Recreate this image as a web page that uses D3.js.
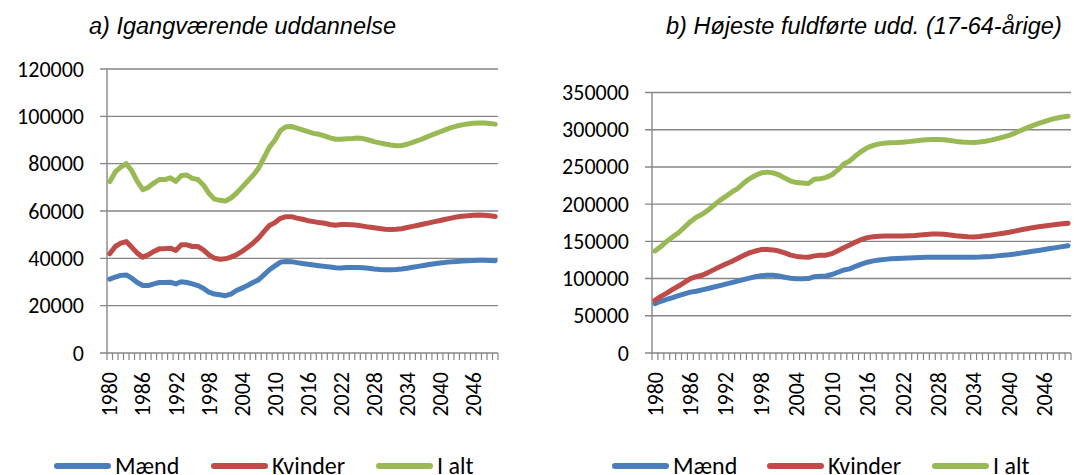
<!DOCTYPE html>
<html>
<head>
<meta charset="utf-8">
<script src="https://cdn.jsdelivr.net/npm/d3@7"></script>
<style>
  body { margin: 0; background: #fff; }
  svg { display: block; }
  .title { font-family: "Liberation Sans", Arial, sans-serif; font-style: italic; font-size: 23.5px; fill: #000; }
  .tick-label { font-family: Carlito, Lato, sans-serif; font-size: 22px; fill: #000; }
  .legend-label { font-family: Carlito, Lato, sans-serif; font-size: 24px; fill: #000; }
</style>
</head>
<body>
<svg id="chart" width="1074" height="475"></svg>
<script>
// categories
const years = d3.range(1980, 2051);
const tickYears = [1980, 1986, 1992, 1998, 2004, 2010, 2016, 2022, 2028, 2034, 2040, 2046];
const seriesNames = ["Mænd", "Kvinder", "I alt"];
const seriesColors = ["#4A7EBB", "#BE4B48", "#98B954"];

// a) Igangværende uddannelse
const yTicksA = [0, 20000, 40000, 60000, 80000, 100000, 120000];
const maendA = [
  31200, 32100, 32800, 33000, 31600, 29800, 28500, 28500, 29200, 29800,
  29800, 29900, 29200, 30100, 29800, 29200, 28500, 27400, 25700, 24900,
  24600, 24200, 24900, 26400, 27400, 28500, 29800, 30900, 33000, 35200,
  36800, 38400, 38700, 38600, 38200, 37800, 37500, 37200, 36900, 36600,
  36300, 36000, 35900, 36100, 36100, 36100, 36000, 35800, 35500, 35300,
  35200, 35200, 35300, 35500, 35800, 36200, 36600, 37000, 37400, 37700,
  38000, 38300, 38500, 38700, 38900, 39000, 39100, 39200, 39200, 39100,
  39000
];
const kvinderA = [
  41900, 45000, 46400, 47100, 44700, 42200, 40500, 41500, 42900, 44000,
  44100, 44300, 43300, 45700, 45700, 45000, 45000, 43600, 41500, 40100,
  39600, 39800, 40500, 41500, 42900, 44600, 46400, 48500, 51300, 53900,
  55100, 56900, 57600, 57600, 57000, 56500, 55900, 55500, 55100, 54800,
  54300, 54000, 54300, 54300, 54200, 54000, 53600, 53200, 52900, 52600,
  52300, 52200, 52300, 52500, 53000, 53500, 54000, 54500, 55000, 55500,
  56000, 56500, 57000, 57500, 57800, 58000, 58200, 58300, 58200, 58000,
  57700
];
const ialtA = [
  72400, 76500, 78500, 80000, 77000, 72500, 69000, 70000, 71800, 73300,
  73300, 74000, 72500, 75000, 75200, 73800, 73300, 71000, 67500, 65000,
  64500, 64200, 65500, 67500, 70000, 72500, 75000, 78000, 82500, 87000,
  90000, 94000, 95600, 95700, 95000, 94300, 93500, 92800, 92400, 91700,
  90900, 90300, 90300, 90500, 90600, 90800, 90600, 90000, 89300, 88800,
  88300, 87900, 87600, 87700, 88200, 89000, 89800, 90700, 91700, 92600,
  93500, 94400, 95200, 95900, 96400, 96800, 97100, 97200, 97200, 97000,
  96700
];

// b) Højeste fuldførte udd. (17-64-årige)
const yTicksB = [0, 50000, 100000, 150000, 200000, 250000, 300000, 350000];
const maendB = [
  66300, 69500, 72000, 74500, 77000, 79500, 81800, 83000, 84800, 86700,
  88700, 90600, 92500, 94500, 96500, 98500, 100500, 102500, 103800, 104400,
  104400, 103500, 101800, 100500, 99800, 99900, 100000, 102500, 103000, 103500,
  105500, 108500, 111500, 113000, 116500, 119500, 122000, 123800, 125000, 125800,
  126500, 126900, 127300, 127600, 127900, 128200, 128500, 128600, 128600, 128600,
  128600, 128600, 128600, 128600, 128700, 128900, 129300, 129800, 130500, 131200,
  132000, 133000, 134200, 135400, 136600, 137800, 139000, 140300, 141600, 142900,
  144200
];
const kvinderB = [
  70800, 76000, 80500, 85500, 90000, 95000, 100000, 102500, 104500, 108000,
  112000, 116000, 119500, 123000, 127000, 131000, 134500, 137000, 138900, 139000,
  138500, 137000, 134500, 131500, 129800, 129000, 128600, 130500, 131300, 131500,
  133500, 137500, 141500, 145000, 149000, 152500, 155000, 156300, 157000, 157200,
  157200, 157200, 157300, 157600, 158000, 158600, 159200, 159800, 160000, 159500,
  158500, 157500, 156800, 156200, 156000, 156500, 157500, 158500, 159700, 160800,
  162200, 163800, 165500, 167000, 168400, 169500, 170600, 171700, 172700, 173600,
  174300
];
const ialtB = [
  137000, 143000, 150000, 156000, 161500, 169000, 176500, 182500, 186500, 192000,
  198500, 205000, 210500, 216000, 221000, 228000, 234000, 238500, 242000, 243000,
  242000, 239500, 235000, 231000, 229000, 228500, 227800, 233400, 234000, 236000,
  239500, 246000, 254000, 258000, 265000, 271000, 276000, 279000, 281000, 282000,
  282500, 282700, 283300, 284000, 284800, 285700, 286500, 287000, 287000, 286500,
  285500, 284300, 283500, 283000, 282900, 283500, 284500, 286000, 288000, 290000,
  292500, 295500, 299000, 302500, 305500, 308500, 311000, 313500, 315500, 317000,
  318000
];

const panels = [
  {
    title: "a) Igangværende uddannelse", titleX: 89,
    series: [maendA, kvinderA, ialtA], yTicks: yTicksA,
    left: 107, right: 498, top: 69, bottom: 353,
    legendX: [55, 212, 377]
  },
  {
    title: "b) Højeste fuldførte udd. (17-64-årige)", titleX: 666,
    series: [maendB, kvinderB, ialtB], yTicks: yTicksB,
    left: 652, right: 1071, top: 92.5, bottom: 353,
    legendX: [613, 768, 933]
  }
];

const axisColor = "#868686";
const svg = d3.select("#chart");

panels.forEach(p => {
  const g = svg.append("g");

  const x = d3.scaleBand().domain(years).range([p.left, p.right]).paddingInner(0).paddingOuter(0);
  const y = d3.scaleLinear().domain([0, d3.max(p.yTicks)]).range([p.bottom, p.top]);
  const cx = d => x(d) + x.bandwidth() / 2;

  // title
  g.append("text").attr("class", "title")
    .attr("x", p.titleX).attr("y", 34)
    .text(p.title);

  // gridlines + y ticks
  g.selectAll(".grid")
    .data(p.yTicks)
    .join("line")
    .attr("x1", p.left - 7).attr("x2", p.right)
    .attr("y1", d => y(d)).attr("y2", d => y(d))
    .attr("stroke", axisColor).attr("stroke-width", 1.4);

  g.selectAll(".ylab")
    .data(p.yTicks)
    .join("text")
    .attr("class", "tick-label")
    .attr("x", p.left - 23)
    .attr("y", d => y(d))
    .attr("text-anchor", "end")
    .attr("dominant-baseline", "central")
    .text(d => d);

  // y axis line
  g.append("line")
    .attr("x1", p.left).attr("x2", p.left)
    .attr("y1", y(d3.max(p.yTicks))).attr("y2", p.bottom)
    .attr("stroke", axisColor).attr("stroke-width", 1.4);

  // category tick marks between categories
  const bounds = years.map(d => x(d)).concat([x.range()[1]]);
  g.selectAll(".ctick")
    .data(bounds)
    .join("line")
    .attr("x1", d => d).attr("x2", d => d)
    .attr("y1", p.bottom).attr("y2", p.bottom + 7)
    .attr("stroke", axisColor).attr("stroke-width", 1.2);

  // x labels, rotated
  g.selectAll(".xlab")
    .data(tickYears)
    .join("text")
    .attr("class", "tick-label")
    .attr("transform", d => `translate(${cx(d)},372) rotate(-90)`)
    .attr("text-anchor", "end")
    .attr("dy", "0.35em")
    .text(d => d);

  // lines
  const line = d3.line()
    .x((d, i) => cx(years[i]))
    .y(d => y(d));

  p.series.forEach((s, k) => {
    g.append("path")
      .datum(s)
      .attr("d", line)
      .attr("fill", "none")
      .attr("stroke", seriesColors[k])
      .attr("stroke-width", 5)
      .attr("stroke-linejoin", "round")
      .attr("stroke-linecap", "round");
  });

  // legend
  seriesNames.forEach((name, k) => {
    const lx = p.legendX[k];
    g.append("line")
      .attr("x1", lx + 2).attr("x2", lx + 53)
      .attr("y1", 466).attr("y2", 466)
      .attr("stroke", seriesColors[k])
      .attr("stroke-width", 6)
      .attr("stroke-linecap", "round");
    g.append("text")
      .attr("class", "legend-label")
      .attr("x", lx + 60).attr("y", 474)
      .text(name);
  });
});
</script>
</body>
</html>
